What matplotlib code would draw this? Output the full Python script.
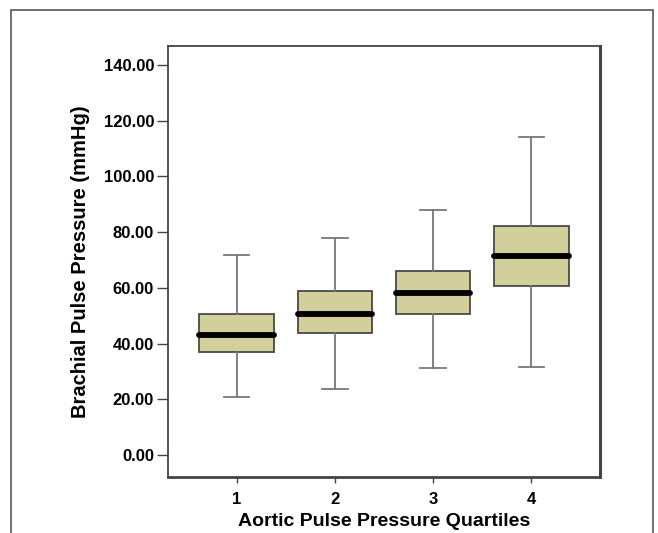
import matplotlib
matplotlib.use('Agg')
from matplotlib import pyplot as plt
from matplotlib.patches import Rectangle

quartiles = [1, 2, 3, 4]
whisker_low = [20.8, 23.7, 31.2, 31.6]
q1 = [37.0, 43.8, 50.6, 60.7]
median = [43.1, 50.6, 58.2, 71.4]
q3 = [50.6, 58.9, 66.0, 82.2]
whisker_high = [71.8, 77.9, 87.9, 114.1]
y_ticks = [0, 20, 40, 60, 80, 100, 120, 140]

plt.rcParams['font.family'] = ['Liberation Sans', 'DejaVu Sans']

fig = plt.figure(figsize=(6.58, 5.33), dpi=100)
ax = fig.add_axes([168 / 658, 1 - 477 / 533, 432 / 658, 431 / 533])

stats = []
for i in range(len(quartiles)):
	stats.append({'label': str(quartiles[i]), 'whislo': whisker_low[i], 'q1': q1[i],
				  'med': median[i], 'q3': q3[i], 'whishi': whisker_high[i], 'fliers': []})

ax.bxp(stats, positions=quartiles, widths=0.76, patch_artist=True, showfliers=False,
	   capwidths=0.26,
	   boxprops=dict(facecolor='#d3cf9c', edgecolor='#4a4a44', linewidth=1.3),
	   whiskerprops=dict(color='#777777', linewidth=1.3),
	   capprops=dict(color='#777777', linewidth=1.3),
	   medianprops=dict(color='black', linewidth=4.2, solid_capstyle='round'))

ax.set_xlim(0.3, 4.7)
ax.set_ylim(-7.9, 146.8)
ax.set_yticks(y_ticks)
ax.set_yticklabels(['%.2f' % v for v in y_ticks])
ax.set_xticks(quartiles)
ax.set_xticklabels([str(q) for q in quartiles])
ax.tick_params(axis='y', length=8, width=1, color='#444444', labelsize=12, pad=2)
ax.tick_params(axis='x', length=4, width=1, color='#444444', labelsize=12, pad=7)
for lab in ax.get_xticklabels() + ax.get_yticklabels():
	lab.set_fontweight('bold')
for s in ax.spines.values():
	s.set_color('#444444')
	s.set_linewidth(1.3)
ax.spines['right'].set_linewidth(2.2)
ax.spines['bottom'].set_linewidth(2.0)

ax.set_xlabel('Aortic Pulse Pressure Quartiles', fontsize=14, fontweight='bold', labelpad=4)
ax.set_ylabel('Brachial Pulse Pressure (mmHg)', fontsize=14.5, fontweight='bold', labelpad=10)

# outer frame, cut off at the bottom
fig.patches.append(Rectangle((11 / 658, -0.05), 642 / 658, 1.05 - 10 / 533,
							 transform=fig.transFigure, fill=False, edgecolor='#555555', linewidth=1.2))

fig.savefig('out.png', dpi=100)
